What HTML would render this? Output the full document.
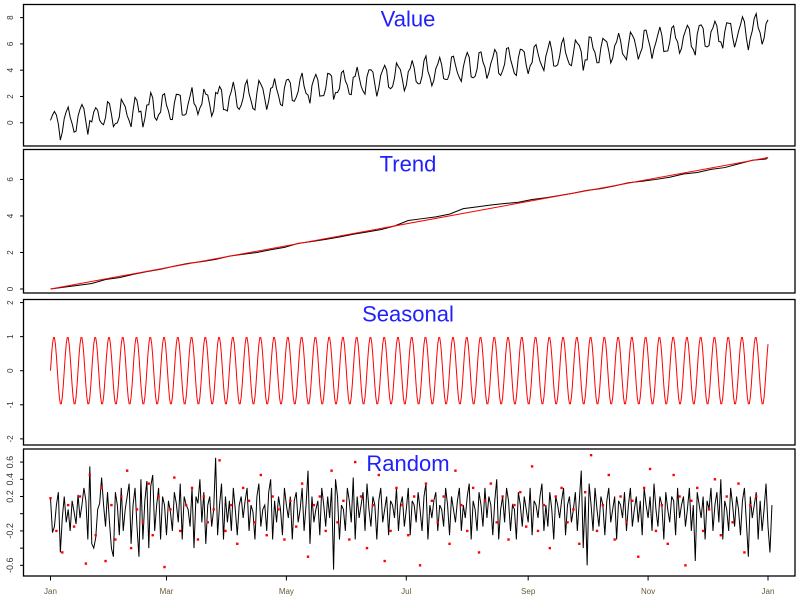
<!DOCTYPE html>
<html><head><meta charset="utf-8"><style>
html,body{margin:0;padding:0;background:#fff;}
svg{display:block;font-family:"Liberation Sans",sans-serif;}
</style></head><body>
<svg id="chart" width="800" height="600" viewBox="0 0 800 600"></svg>
<script>
// ---- data ----
const monthLabels = ["Jan","Mar","May","Jul","Sep","Nov","Jan"];
const monthDays = [0,59,120,181,243,304,365];
const seasonalCycle = [0,0.43,0.78,0.97,0.97,0.78,0.43,0,-0.43,-0.78,-0.97,-0.97,-0.78,-0.43];
const trendFitStart = 0.0;
const trendFitEnd = 7.2;
const trendWeekly = [0,0.1,0.2,0.3,0.52,0.62,0.8,0.95,1.08,1.25,1.4,1.5,1.62,1.8,1.9,2.0,2.15,2.28,2.5,2.6,2.72,2.85,3.0,3.12,3.25,3.45,3.75,3.85,3.95,4.1,4.4,4.5,4.6,4.68,4.75,4.9,5.0,5.12,5.25,5.4,5.5,5.65,5.82,5.9,6.0,6.12,6.3,6.38,6.55,6.65,6.85,7.05,7.12,7.2];
const randomVals = [
0.18,-0.22,-0.15,0.1,0.25,-0.45,-0.05,0.2,-0.1,0.05,-0.2,0.15,0.02,-0.12,0.22,-0.05,0.1,0.3,0.15,-0.3,0.55,-0.35,-0.4,-0.28,0.05,0.12,0.42,0.1,-0.15,0.25,
-0.1,-0.4,-0.5,0.25,0.1,-0.25,0.3,-0.2,0.05,0.2,0.35,-0.35,0.1,0.3,-0.15,-0.5,0.4,-0.3,0.15,0.38,-0.4,0.32,0.45,-0.2,0.1,0.3,-0.3,0.2,0.1,-0.25,
0.15,0.02,-0.2,0.25,0.12,-0.1,0.35,-0.3,0.2,0.1,0.05,-0.15,0.3,-0.4,0.2,0.12,0.4,-0.1,0.25,-0.35,0.1,0.2,-0.15,0.05,0.65,-0.25,0.1,0.35,-0.3,0.2,
-0.1,0.15,-0.2,0.3,0.05,-0.25,0.1,0.2,-0.05,0.15,0.3,-0.2,0.1,0.02,-0.3,0.2,0.35,-0.15,0.05,0.1,-0.2,0.25,0.4,-0.3,0.15,-0.1,0.2,0.05,-0.25,0.3,
0.1,-0.05,0.2,-0.3,0.15,0.25,-0.1,0.05,0.3,-0.2,0.1,0.5,-0.35,0.2,-0.1,0.05,0.15,-0.25,0.3,0.1,-0.15,0.2,-0.05,0.3,-0.65,0.4,0.2,-0.3,0.1,0.05,
-0.2,0.3,0.15,-0.1,0.42,-0.3,0.2,-0.05,0.1,0.25,-0.2,0.35,0.05,-0.15,0.2,0.1,-0.3,0.15,0.3,-0.1,0.05,0.2,-0.25,0.15,0.1,-0.05,0.3,-0.2,0.1,0.2,
-0.15,0.05,0.3,-0.25,0.15,0.1,-0.1,0.25,0.05,-0.2,0.2,0.35,-0.3,0.1,-0.05,0.15,0.25,-0.2,0.1,0.05,-0.15,0.3,0.1,-0.25,0.2,0.05,-0.1,0.15,0.3,-0.2,
0.1,-0.05,0.2,0.35,-0.3,0.15,0.05,-0.2,0.25,0.1,-0.15,0.3,-0.05,0.2,0.1,-0.25,0.15,0.4,-0.3,0.05,0.2,-0.1,0.3,0.15,-0.2,0.1,0.05,-0.3,0.25,0.1,
-0.15,0.2,0.05,-0.1,0.3,-0.25,0.15,0.1,-0.05,0.2,0.35,-0.2,0.1,-0.15,0.25,0.05,-0.3,0.2,0.1,-0.05,0.15,0.3,-0.25,0.1,0.2,-0.1,0.05,0.25,-0.2,0.15,
0.5,-0.4,0.2,-0.6,0.35,0.1,-0.2,0.3,0.05,-0.15,0.2,0.1,-0.25,0.15,0.3,-0.1,0.05,0.2,-0.3,0.15,0.1,-0.05,0.25,-0.2,0.1,0.3,-0.15,0.05,0.2,-0.1,
0.15,-0.25,0.3,0.1,-0.05,0.2,-0.2,0.35,0.05,-0.15,0.2,0.1,-0.3,0.25,0.05,-0.1,0.2,0.15,-0.25,0.3,-0.05,0.1,0.2,-0.15,0.05,0.3,-0.2,0.1,-0.55,0.25,
0.1,-0.05,0.2,-0.3,0.15,0.05,0.3,-0.2,0.1,0.25,-0.1,0.4,-0.3,0.15,0.05,-0.2,0.3,0.1,-0.15,0.2,0.05,-0.25,0.15,0.3,-0.1,-0.5,0.2,-0.05,0.1,0.25,
-0.3,0.15,-0.2,0.05,0.35,-0.15,-0.45,0.1
];
const redDays = [0,3,6,9,12,15,18,20,23,26,28,31,33,36,39,41,44,47,50,52,55,58,61,63,66,69,72,75,78,80,83,86,89,92,95,98,101,104,107,110,113,116,119,122,125,128,131,134,137,140,143,146,149,152,155,158,161,164,167,170,173,176,179,182,185,188,191,194,197,200,203,206,209,212,215,218,221,224,227,230,233,236,239,242,245,248,251,254,257,260,263,266,269,272,275,278,281,284,287,290,293,296,299,302,305,308,311,314,317,320,323,326,329,332,335,338,341,344,347,350,353,356,359,362];
const redVals = [0.18,-0.2,-0.45,0.1,-0.15,0.2,-0.58,0.45,-0.25,0.3,-0.55,0.1,-0.3,0.2,0.5,-0.4,0.05,-0.1,0.35,-0.25,0.2,-0.62,0.05,0.42,-0.2,0.1,0.3,-0.3,0.2,-0.1,0.05,0.62,-0.2,0.1,-0.35,0.3,0.15,-0.1,0.45,-0.25,0.2,0.05,-0.3,0.15,-0.15,0.35,-0.5,0.1,0.2,-0.2,0.5,-0.1,0.15,-0.3,0.6,0.2,-0.4,0.1,0.45,-0.55,-0.2,0.3,0.1,-0.25,0.2,-0.6,0.35,0.15,-0.1,0.2,-0.35,0.5,0.1,-0.2,0.3,-0.45,0.15,0.35,-0.1,0.2,-0.3,0.1,0.25,-0.15,0.55,-0.2,0.1,-0.4,0.2,0.3,-0.1,0.05,-0.35,0.25,0.68,-0.2,0.1,0.45,-0.3,0.2,-0.1,0.15,-0.5,0.3,0.52,-0.2,0.1,-0.35,0.45,0.2,-0.6,0.15,0.3,-0.2,0.05,0.4,-0.25,0.2,-0.1,0.35,-0.45,0.1,0.2];

// ---- layout ----
const NS = "http://www.w3.org/2000/svg";
const svg = document.getElementById('chart');
const X0 = 23.5, X1 = 795;
function xScale(d){ return 50.5 + d * (717.5/365); }
function mk(tag, attrs, parent){
  const e = document.createElementNS(NS, tag);
  for (const k in attrs) e.setAttribute(k, attrs[k]);
  (parent||svg).appendChild(e);
  return e;
}
const panels = [
  {key:"value", title:"Value", top:4.5, bottom:146, dom:[-1.77,9.0], ticks:[0,2,4,6,8], labels:[0,2,4,6,8], fs:8, tx:408},
  {key:"trend", title:"Trend", top:149.5, bottom:293, dom:[-0.22,7.64], ticks:[0,2,4,6], labels:[0,2,4,6], fs:8, tx:408},
  {key:"seasonal", title:"Seasonal", top:299.5, bottom:445, dom:[-2.18,2.09], ticks:[-2,-1,0,1,2], labels:[-2,-1,0,1,2], fs:8, tx:408},
  {key:"random", title:"Random", top:449, bottom:576, dom:[-0.724,0.752], ticks:[-0.6,-0.4,-0.2,0,0.2,0.4,0.6], labels:[-0.6,-0.2,0.2,0.4,0.6], fs:9, tx:408}
];
panels.forEach(p=>{
  p.y = v => p.bottom - (v - p.dom[0]) / (p.dom[1]-p.dom[0]) * (p.bottom - p.top);
});
function pathFrom(xs, ys){
  let d = "";
  for (let i=0;i<xs.length;i++) d += (i?"L":"M") + xs[i].toFixed(2) + "," + ys[i].toFixed(2);
  return d;
}
function trendFit(d){ return trendFitStart + (trendFitEnd - trendFitStart) * d / 365; }
function seasonalAt(halfDay){ return seasonalCycle[halfDay % seasonalCycle.length]; }

panels.forEach(p=>{
  const g = mk('g', {});
  
  
  const box = mk('rect', {x:X0, y:p.top, width:X1-X0, height:p.bottom-p.top, fill:'none', stroke:'#000', 'stroke-width':1.3}, g);
  
  
  p.ticks.forEach(t=>{
    const yy = p.y(t);
    const tk = mk('line', {x1:X0-3.5, x2:X0, y1:yy, y2:yy, stroke:'#000', 'stroke-width':1}, g);
    
    
  });
  p.labels.forEach(t=>{
    const yy = p.y(t);
    const tl = mk('text', {x:0, y:0, 'font-size':p.fs, fill:'#333', 'text-anchor':'middle', transform:'translate(13,'+yy.toFixed(1)+') rotate(-90)'}, g);
    tl.textContent = String(t);
    
    
  });
  p.g = g;
});

// value series
(function(){
  const p = panels[0];
  const xs=[], ys=[];
  for (let d=0; d<randomVals.length && d<=365; d++){
    xs.push(xScale(d)); ys.push(p.y(trendFit(d) + seasonalAt(d*2) + randomVals[d]));
  }
  const ln = mk('path', {d:pathFrom(xs,ys), fill:'none', stroke:'#000', 'stroke-width':1}, p.g);
  
  
})();
// trend series
(function(){
  const p = panels[1];
  const xs = trendWeekly.map((v,i)=>xScale(Math.min(i*7,365)));
  const ys = trendWeekly.map(v=>p.y(v));
  const ln = mk('path', {d:pathFrom(xs,ys), fill:'none', stroke:'#000', 'stroke-width':1}, p.g);
  
  
  const fit = mk('line', {x1:xScale(0), y1:p.y(trendFit(0)), x2:xScale(365), y2:p.y(trendFit(365)), stroke:'#f00', 'stroke-width':1}, p.g);
  
  
})();
// seasonal series
(function(){
  const p = panels[2];
  const xs=[], ys=[];
  for (let h=0; h<=730; h++){ xs.push(xScale(h/2)); ys.push(p.y(seasonalAt(h))); }
  const ln = mk('path', {d:pathFrom(xs,ys), fill:'none', stroke:'#f00', 'stroke-width':1}, p.g);
  
  
})();
// random series
(function(){
  const p = panels[3];
  const xs = randomVals.map((v,i)=>xScale(i));
  const ys = randomVals.map(v=>p.y(v));
  const ln = mk('path', {d:pathFrom(xs,ys), fill:'none', stroke:'#000', 'stroke-width':1}, p.g);
  
  
  redVals.forEach((v,i)=>{
    const pt = mk('rect', {x:xScale(redDays[i])-1.2, y:p.y(v)-1.2, width:2.4, height:2.4, fill:'#f00'}, p.g);
    
    
  });
})();
// titles
panels.forEach(p=>{
  const t = mk('text', {x:p.tx, y:p.top+22, 'font-size':22, fill:'#1f1fff', 'text-anchor':'middle'}, p.g);
  t.textContent = p.title;
  
  
});
// x axis
monthDays.forEach((d,i)=>{
  const xx = xScale(d);
  const tk = mk('line', {x1:xx, x2:xx, y1:576, y2:580.5, stroke:'#000', 'stroke-width':1});
  
  
  const tl = mk('text', {x:xx, y:594, 'font-size':8, fill:'#6b5a3a', 'text-anchor':'middle'});
  tl.textContent = monthLabels[i];
  
  
});
</script>
</body></html>
